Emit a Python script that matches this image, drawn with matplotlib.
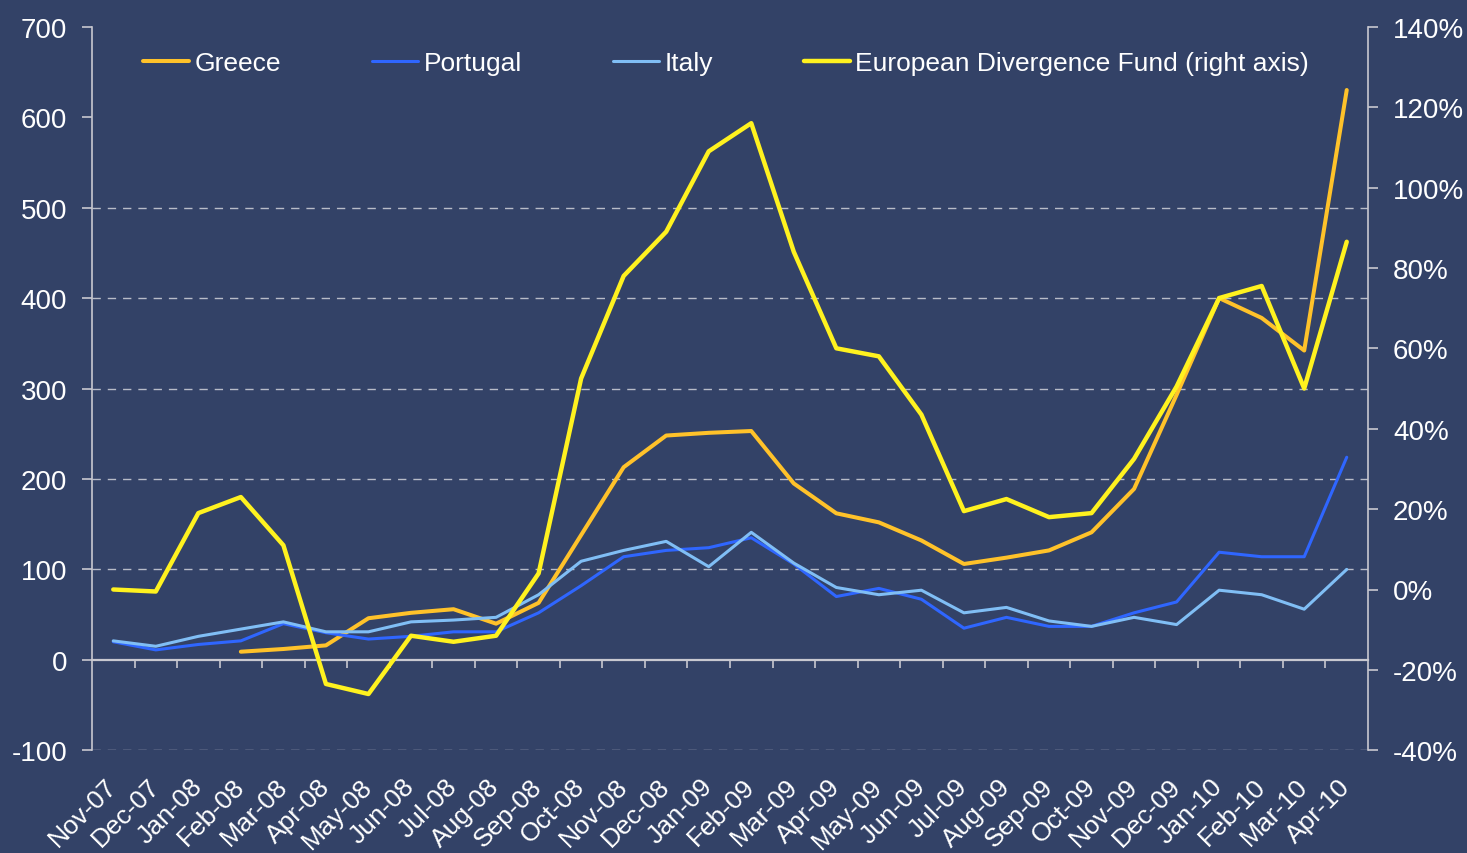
import numpy as np
import matplotlib.pyplot as plt

plt.rcParams['font.family'] = ['Liberation Sans', 'DejaVu Sans']

# Monthly data, Nov-07 .. Apr-10
months = ['Nov-07', 'Dec-07', 'Jan-08', 'Feb-08', 'Mar-08', 'Apr-08', 'May-08',
          'Jun-08', 'Jul-08', 'Aug-08', 'Sep-08', 'Oct-08', 'Nov-08', 'Dec-08',
          'Jan-09', 'Feb-09', 'Mar-09', 'Apr-09', 'May-09', 'Jun-09', 'Jul-09',
          'Aug-09', 'Sep-09', 'Oct-09', 'Nov-09', 'Dec-09', 'Jan-10', 'Feb-10',
          'Mar-10', 'Apr-10']
greece = [np.nan, np.nan, np.nan, 9, 12, 16, 46, 52, 56, 40, 63, 138, 213, 248, 251,
          253, 195, 162, 152, 132, 106, 113, 121, 141, 189, 293, 400, 378, 342, 630]
portugal = [20, 11, 17, 21, 40, 30, 23, 26, 31, 31, 52, 82, 114, 121, 124,
            135, 106, 70, 79, 67, 35, 47, 37, 37, 52, 64, 119, 114, 114, 224]
italy = [21, 15, 26, 34, 42, 31, 31, 42, 44, 47, 72, 109, 121, 131, 103,
         141, 107, 80, 72, 77, 52, 58, 43, 37, 47, 39, 77, 72, 56, 100]
edf = [0, -0.5, 19, 23, 11, -23.5, -26, -11.5, -13, -11.5, 4, 52.5, 78, 89, 109,
       116, 84, 60, 58, 43.5, 19.5, 22.5, 18, 19, 32.5, 50.5, 72.5, 75.5, 50, 86.5]

left_ticks = np.arange(-100, 701, 100)
right_ticks = np.arange(-40, 141, 20)
grid_levels = [-100, 100, 200, 300, 400, 500]

bg = '#334267'
axis_col = '#C8C8D0'
x = np.arange(len(months))

fig = plt.figure(figsize=(14.67, 8.54), dpi=100, facecolor=bg)
ax = fig.add_axes([92 / 1467, 1 - 751.3 / 854, (1368 - 92) / 1467, (751.3 - 27.7) / 854])
ax.set_facecolor(bg)
ax2 = ax.twinx()

for lvl in grid_levels:
    ax.axhline(lvl, color='#B8BCC8', lw=1.0, ls=(0, (6, 5)), zorder=1)

ax.plot(x, greece, color='#FFC22A', lw=2.9, label='Greece', solid_capstyle='round', zorder=3)
ax.plot(x, portugal, color='#2F66FF', lw=2.2, label='Portugal', solid_capstyle='round', zorder=3)
ax.plot(x, italy, color='#80BEF5', lw=2.2, label='Italy', solid_capstyle='round', zorder=3)
ax2.plot(x, edf, color='#FFF21F', lw=3.2, label='European Divergence Fund (right axis)',
         solid_capstyle='round')

ax.set_xlim(-0.5, len(months) - 0.5)
ax.set_ylim(-100, 700)
ax2.set_ylim(-40, 140)

# left axis
ax.set_yticks(left_ticks)
ax.set_yticklabels([f'{v:.0f}' for v in left_ticks])
ax.tick_params(axis='y', colors=axis_col, labelcolor='white', labelsize=20,
               length=7, width=1.2, pad=11)

# category axis: spine at zero, boundary ticks
ax.spines['bottom'].set_position(('data', 0))
ax.spines['bottom'].set_color(axis_col)
ax.spines['bottom'].set_linewidth(1.6)
ax.set_xticks(np.arange(0.5, len(months) - 1, 1))
ax.tick_params(axis='x', colors=axis_col, labelbottom=False, length=5.5, width=1.2,
               direction='out')
for s in ['top', 'right']:
    ax.spines[s].set_visible(False)
ax.spines['left'].set_color(axis_col)
ax.spines['left'].set_linewidth(1.2)

sec = ax.secondary_xaxis('bottom')
sec.set_xticks(x)
sec.set_xticklabels(months)
sec.spines['bottom'].set_visible(False)
sec.tick_params(axis='x', length=0, labelcolor='white', labelsize=19, pad=23)
for lab in sec.get_xticklabels():
    lab.set_rotation(45)
    lab.set_ha('right')
    lab.set_va('center')
    lab.set_rotation_mode('anchor')

# right axis
ax2.set_yticks(right_ticks)
ax2.set_yticklabels([f'{v:.0f}%' for v in right_ticks])
ax2.tick_params(axis='y', colors=axis_col, labelcolor='white', labelsize=20,
                length=7, width=1.2, pad=11)
for s in ['top', 'left', 'bottom']:
    ax2.spines[s].set_visible(False)
ax2.spines['right'].set_color(axis_col)
ax2.spines['right'].set_linewidth(1.2)

h1, l1 = ax.get_legend_handles_labels()
h2, l2 = ax2.get_legend_handles_labels()
leg = ax2.legend(h1 + h2, l1 + l2, ncol=4, frameon=False, loc='center left',
                 bbox_to_anchor=(143 / 1467, 1 - 64 / 854), bbox_transform=fig.transFigure,
                 borderpad=0, borderaxespad=0, handlelength=1.75, handletextpad=0.2,
                 columnspacing=3.45, fontsize=19, labelcolor='white')

fig.savefig('out.png', dpi=100, facecolor=bg)
